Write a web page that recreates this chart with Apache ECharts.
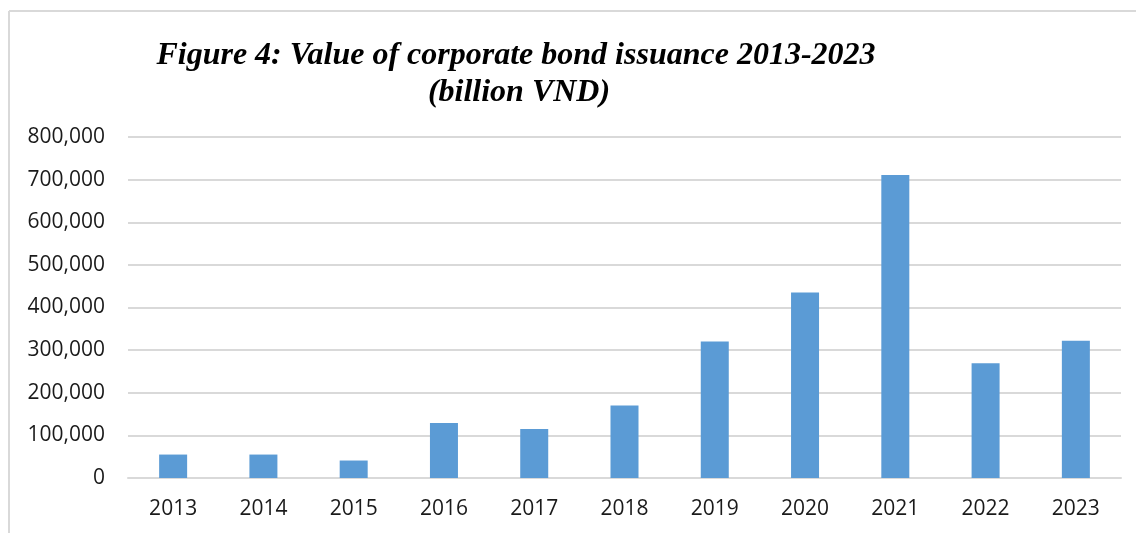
<!DOCTYPE html>
<html>
<head>
<meta charset="utf-8">
<script src="https://cdn.jsdelivr.net/npm/echarts@6/dist/echarts.min.js"></script>
<style>
html,body{margin:0;padding:0;background:#fff;}
#chart{width:1136px;height:533px;}
</style>
</head>
<body>
<div id="chart"></div>
<script>
const categories = ['2013','2014','2015','2016','2017','2018','2019','2020','2021','2022','2023'];
const issuanceValues = [55000, 55000, 41000, 129000, 115000, 170000, 320000, 435000, 711000, 269000, 322000];
const titleLines = ['Figure 4: Value of corporate bond issuance 2013-2023', '(billion VND)'];

const chart = echarts.init(document.getElementById('chart'), null, {renderer: 'canvas'});
chart.setOption({
  animation: false,
  backgroundColor: '#ffffff',
  graphic: [
    {type: 'line', shape: {x1: 9, y1: 11, x2: 1136, y2: 11}, style: {stroke: '#d9d9d9', lineWidth: 2}},
    {type: 'line', shape: {x1: 9, y1: 11, x2: 9, y2: 533}, style: {stroke: '#d9d9d9', lineWidth: 2}},
    {type: 'text', x: 516, y: 56, style: {text: titleLines[0], font: 'italic bold 32px "Liberation Serif", "Times New Roman", serif', fill: '#000', align: 'center', verticalAlign: 'middle'}},
    {type: 'text', x: 519, y: 93, style: {text: titleLines[1], font: 'italic bold 32px "Liberation Serif", "Times New Roman", serif', fill: '#000', align: 'center', verticalAlign: 'middle'}}
  ],
  grid: {left: 128, right: 15, top: 137, bottom: 55, containLabel: false},
  xAxis: {
    type: 'category',
    data: categories,
    axisLine: {show: true, lineStyle: {color: '#d9d9d9', width: 2}},
    axisTick: {show: false},
    axisLabel: {color: '#1a1a1a', fontFamily: '"Open Sans", sans-serif', fontSize: 21, margin: 21}
  },
  yAxis: {
    type: 'value',
    min: 0, max: 800000, interval: 100000,
    axisLine: {show: false},
    axisTick: {show: false},
    splitLine: {lineStyle: {color: '#d9d9d9', width: 2}},
    axisLabel: {
      color: '#1a1a1a', fontFamily: '"Open Sans", sans-serif', fontSize: 21, margin: 23,
      formatter: v => v.toLocaleString('en-US')
    }
  },
  series: [{
    type: 'bar',
    data: issuanceValues,
    barWidth: 28,
    itemStyle: {color: '#5b9bd5'}
  }]
});
</script>
</body>
</html>
